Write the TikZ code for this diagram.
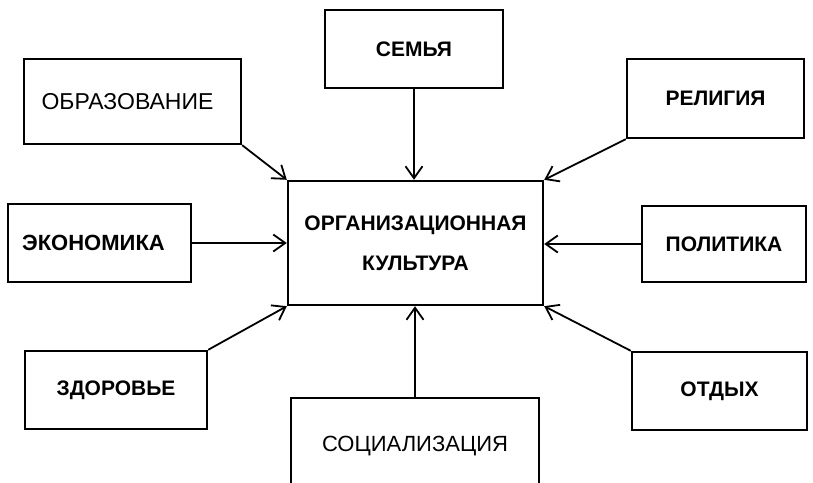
\documentclass[tikz,border=0pt]{standalone}
\usepackage{fontspec}
\setmainfont{Liberation Sans}
\usetikzlibrary{arrows.meta}
\tikzset{
  box/.style={draw, line width=2.4pt, inner sep=0pt, align=center},
  reg/.style={font=\fontsize{23}{26}\selectfont},
  bld/.style={font=\bfseries\fontsize{21}{24}\selectfont},
  conn/.style={line width=1.8pt, -{Straight Barb[length=12pt,width=17pt,line width=1.8pt]}}
}
\begin{document}
\begin{tikzpicture}[x=1pt,y=-1pt]
\useasboundingbox (0,0) rectangle (813,482);
% central
\node[box, minimum width=255pt, minimum height=124pt, align=center, font=\bfseries\fontsize{21}{40}\selectfont] (c) at (415.5,243) {\raisebox{-6pt}{ОРГАНИЗАЦИОННАЯ}\\\raisebox{-6pt}{КУЛЬТУРА}};
% surrounding
\node[box, reg, minimum width=217pt, minimum height=85pt] (obr) at (132.5,101.5) {\hspace*{-10pt}\raisebox{-8pt}{ОБРАЗОВАНИЕ}};
\node[box, bld, minimum width=178pt, minimum height=78pt] (sem) at (414,49) {СЕМЬЯ};
\node[box, bld, minimum width=177pt, minimum height=79pt] (rel) at (715.5,98.5) {РЕЛИГИЯ};
\node[box, bld, minimum width=183pt, minimum height=78pt, font=\bfseries\fontsize{22}{24}\selectfont] (eko) at (99.5,243) {ЭКОНОМИКА\hspace*{12pt}};
\node[box, bld, minimum width=164pt, minimum height=76pt] (pol) at (724,244) {ПОЛИТИКА};
\node[box, bld, minimum width=182pt, minimum height=78pt] (zdr) at (116,390) {ЗДОРОВЬЕ};
\node[box, bld, minimum width=175pt, minimum height=78pt] (otd) at (719.5,391) {ОТДЫХ};
\node[box, font=\fontsize{22}{26}\selectfont, minimum width=248pt, minimum height=96pt] (soc) at (415,446) {СОЦИАЛИЗАЦИЯ};
% connectors
\draw[conn] (obr.south east) -- (c.north west);
\draw[conn] (sem.south) -- (sem.south |- c.north);
\draw[conn] (rel.south west) -- (c.north east);
\draw[conn] (eko.east) -- (eko.east -| c.west);
\draw[conn] (pol.west) -- (pol.west -| c.east);
\draw[conn] (zdr.north east) -- (c.south west);
\draw[conn] (otd.north west) -- (c.south east);
\draw[conn] (soc.north) -- (soc.north |- c.south);
\end{tikzpicture}
\end{document}
